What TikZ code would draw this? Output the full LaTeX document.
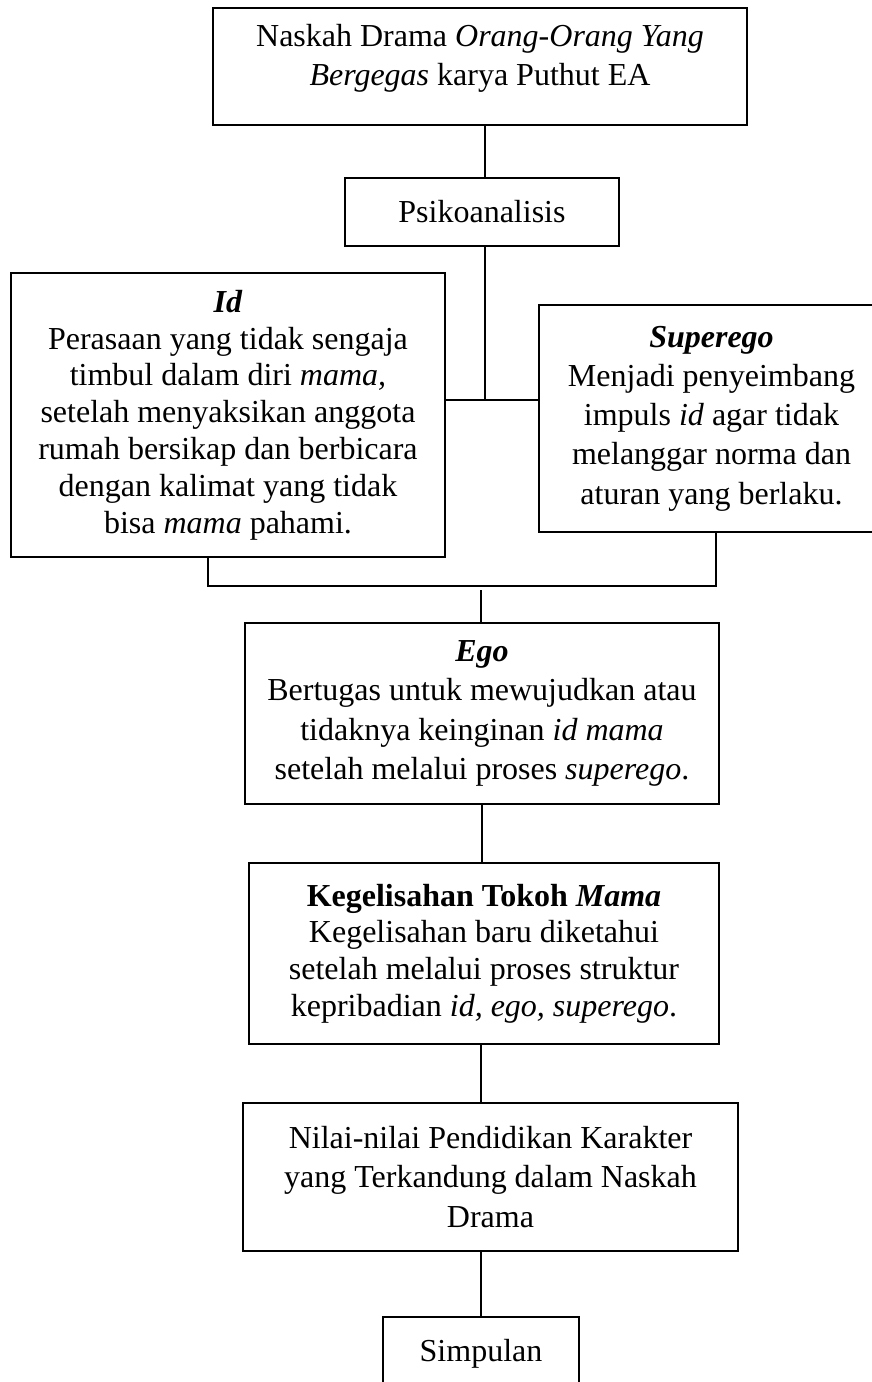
\documentclass[tikz,border=0pt]{standalone}
\usepackage{fontspec}
\setmainfont{Liberation Serif}
\usepackage{tikz}

\begin{document}
\begin{tikzpicture}[x=0.5pt, y=-0.5pt, line width=0.8pt,
		kotak/.style={draw, align=center, inner sep=0pt, font=\fontsize{16}{19.6}\selectfont},
		rapat/.style={font=\fontsize{16}{18.4}\selectfont}]
	\useasboundingbox (0, 0) rectangle (872, 1382);
	\node[kotak, minimum width=267pt, minimum height=58.5pt] (naskah) at (480, 66.5)
		{Naskah Drama \emph{Orang-Orang Yang}\\ \emph{Bergegas} karya Puthut EA\\[-8pt]\mbox{}};
	\node[kotak, minimum width=137pt, minimum height=34pt] (psiko) at (482, 212) {Psikoanalisis};
	\node[kotak, rapat, minimum width=217pt, minimum height=142pt] (id) at (228, 415)
		{\textbf{\emph{Id}}\\ Perasaan yang tidak sengaja\\ timbul dalam diri \emph{mama,}\\ setelah menyaksikan anggota\\ rumah bersikap dan berbicara\\ dengan kalimat yang tidak\\ bisa \emph{mama} pahami.};
	\node[kotak, minimum width=172.5pt, minimum height=113.5pt] (superego) at (711.5, 418.5)
		{\textbf{\emph{Superego}}\\ Menjadi penyeimbang\\ impuls \emph{id} agar tidak\\ melanggar norma dan\\ aturan yang berlaku.};
	\node[kotak, minimum width=237pt, minimum height=90.5pt] (ego) at (482, 713.5)
		{\textbf{\emph{Ego}}\\ Bertugas untuk mewujudkan atau\\ tidaknya keinginan \emph{id mama}\\ setelah melalui proses \emph{superego}.};
	\node[kotak, rapat, minimum width=235pt, minimum height=90.5pt] (gelisah) at (484, 953.5)
		{\textbf{Kegelisahan Tokoh \emph{Mama}}\\ Kegelisahan baru diketahui\\ setelah melalui proses struktur\\ kepribadian \emph{id, ego, superego}.};
	\node[kotak, minimum width=247.5pt, minimum height=74pt] (nilai) at (490.5, 1177)
		{Nilai-nilai Pendidikan Karakter\\ yang Terkandung dalam Naskah\\ Drama};
	\node[kotak, minimum width=98pt, minimum height=36.5pt] (simpulan) at (481, 1353.5) {Simpulan};

	\coordinate (atas) at (485, 400);
	\coordinate (kiri) at (208, 586);
	\coordinate (kanan) at (716, 586);
	\coordinate (tengah) at (481, 590);
	\draw (naskah.south -| atas) -- (psiko.north -| atas);
	\draw (psiko.south -| atas) -- (atas);
	\draw (id.east |- atas) -- (superego.west |- atas);
	\draw (id.south -| kiri) -- (kiri) -- (kanan) -- (superego.south -| kanan);
	\draw (tengah) -- (ego.north -| tengah);
	\draw (ego.south -| ego) -- (gelisah.north -| ego);
	\draw (gelisah.south -| simpulan) -- (nilai.north -| simpulan);
	\draw (nilai.south -| simpulan) -- (simpulan.north);
\end{tikzpicture}
\end{document}
